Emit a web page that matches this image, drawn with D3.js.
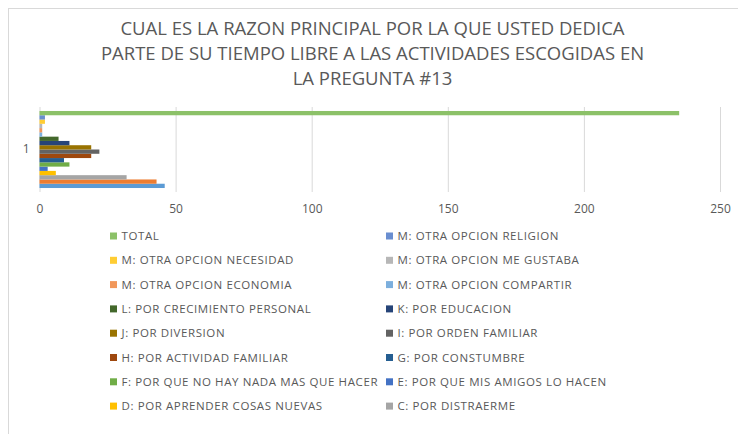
<!DOCTYPE html>
<html>
<head>
<meta charset="utf-8">
<script src="https://cdn.jsdelivr.net/npm/d3@7"></script>
<style>
    body { margin: 0; background: #fff; }
    text { font-family: "Open Sans", "Liberation Sans", sans-serif; fill: #595959; }
</style>
</head>
<body>
<div id="chart"></div>
<script>
///// DATA
const titleLines = [
    'CUAL ES LA RAZON PRINCIPAL POR LA QUE USTED DEDICA',
    'PARTE DE SU TIEMPO LIBRE A LAS ACTIVIDADES ESCOGIDAS EN',
    'LA PREGUNTA #13'
];
const categories = ['1'];
// series in plot order (first one sits at the bottom of the group)
const seriesNames = [
    'A', 'B',
    'C: POR DISTRAERME',
    'D: POR APRENDER COSAS NUEVAS',
    'E: POR QUE MIS AMIGOS LO HACEN',
    'F: POR QUE NO HAY NADA MAS QUE HACER',
    'G: POR CONSTUMBRE',
    'H: POR ACTIVIDAD FAMILIAR',
    'I: POR ORDEN FAMILIAR',
    'J: POR DIVERSION',
    'K: POR EDUCACION',
    'L: POR CRECIMIENTO PERSONAL',
    'M: OTRA OPCION COMPARTIR',
    'M: OTRA OPCION ECONOMIA',
    'M: OTRA OPCION ME GUSTABA',
    'M: OTRA OPCION NECESIDAD',
    'M: OTRA OPCION RELIGION',
    'TOTAL'
];
const seriesValues = [46, 43, 32, 6, 3, 11, 9, 19, 22, 19, 11, 7, 1, 1, 1, 2, 2, 235];
const seriesColors = [
    '#5B9BD5', '#ED7D31', '#A5A5A5', '#FFC000', '#4472C4', '#70AD47',
    '#255E91', '#9E480E', '#636363', '#997300', '#264478', '#43682B',
    '#7CAFDD', '#F1975A', '#B7B7B7', '#FFCD33', '#698ED0', '#8CC168'
];
const xTicks = [0, 50, 100, 150, 200, 250];

///// CHART
const WIDTH = 738, HEIGHT = 434;
const MARGIN = { top: 107, right: 18, bottom: 242, left: 39.5 };

const svg = d3.select('#chart').append('svg')
    .attr('width', WIDTH)
    .attr('height', HEIGHT);

// FRAME (cut by the window on right and bottom)
svg.append('rect')
    .attr('x', 8.5).attr('y', 8.5)
    .attr('width', WIDTH + 20).attr('height', HEIGHT + 20)
    .attr('fill', 'none')
    .attr('stroke', '#d9d9d9');

// TITLE
svg.append('g').selectAll('text')
    .data(titleLines)
    .enter()
    .append('text')
    .attr('x', 372.5)
    .attr('y', (d, i) => 35 + i * 25)
    .attr('text-anchor', 'middle')
    .style('font-size', '18.5px')
    .text(d => d);

// SCALES
const x = d3.scaleLinear()
    .domain([0, 250])
    .range([MARGIN.left, 720]);

const y = d3.scaleBand()
    .domain(categories)
    .range([MARGIN.top, HEIGHT - MARGIN.bottom]);

const ySeries = d3.scaleBand()
    .domain(d3.range(seriesNames.length).reverse())
    .range([0, y.bandwidth()])
    .paddingOuter(0.93)
    .paddingInner(0);

// GRIDLINES
const g = svg.append('g');
g.selectAll('.grid')
    .data(xTicks)
    .enter()
    .append('line')
    .attr('class', 'grid')
    .attr('x1', d => x(d) + 0.5)
    .attr('x2', d => x(d) + 0.5)
    .attr('y1', y.range()[0])
    .attr('y2', y.range()[1])
    .attr('stroke', '#d9d9d9');

// X AXIS LABELS
const xAxis = svg.append('g')
    .attr('transform', `translate(0, ${y.range()[1] + 12})`)
    .call(d3.axisBottom(x).tickValues(xTicks).tickSize(0).tickPadding(0));
xAxis.select('.domain').remove();
xAxis.selectAll('text')
    .style('font-size', '12px')
    .style('fill', '#595959');

// Y AXIS LABEL
const yAxis = svg.append('g')
    .attr('transform', `translate(${MARGIN.left - 10}, 0)`)
    .call(d3.axisLeft(y).tickSize(0).tickPadding(0));
yAxis.select('.domain').remove();
yAxis.selectAll('text')
    .style('font-size', '12px')
    .style('fill', '#595959');

// BARS
const groups = g.selectAll('.cat')
    .data(categories)
    .enter()
    .append('g')
    .attr('class', 'cat')
    .attr('transform', d => `translate(0, ${y(d)})`);

groups.selectAll('rect')
    .data(seriesValues.map((v, i) => ({ i, v })))
    .enter()
    .append('rect')
    .attr('x', x(0))
    .attr('y', d => ySeries(d.i))
    .attr('width', d => x(d.v) - x(0))
    .attr('height', ySeries.bandwidth())
    .attr('fill', d => seriesColors[d.i]);

// LEGEND (reversed order, two columns, only the rows that fit)
const legendRows = 8;
const legendData = d3.range(seriesNames.length).reverse()
    .slice(0, legendRows * 2);
const legend = svg.append('g').selectAll('.legend')
    .data(legendData)
    .enter()
    .append('g')
    .attr('class', 'legend')
    .attr('transform', (d, k) => `translate(${k % 2 === 0 ? 110 : 386}, ${236 + Math.floor(k / 2) * 24.3})`);

legend.append('rect')
    .attr('x', 0)
    .attr('y', -3.5)
    .attr('width', 7)
    .attr('height', 7)
    .attr('fill', d => seriesColors[d]);

legend.append('text')
    .attr('x', 11.5)
    .attr('y', 0)
    .attr('dy', '0.35em')
    .style('font-size', '11.5px')
    .style('letter-spacing', '0.6px')
    .text(d => seriesNames[d]);
</script>
</body>
</html>
